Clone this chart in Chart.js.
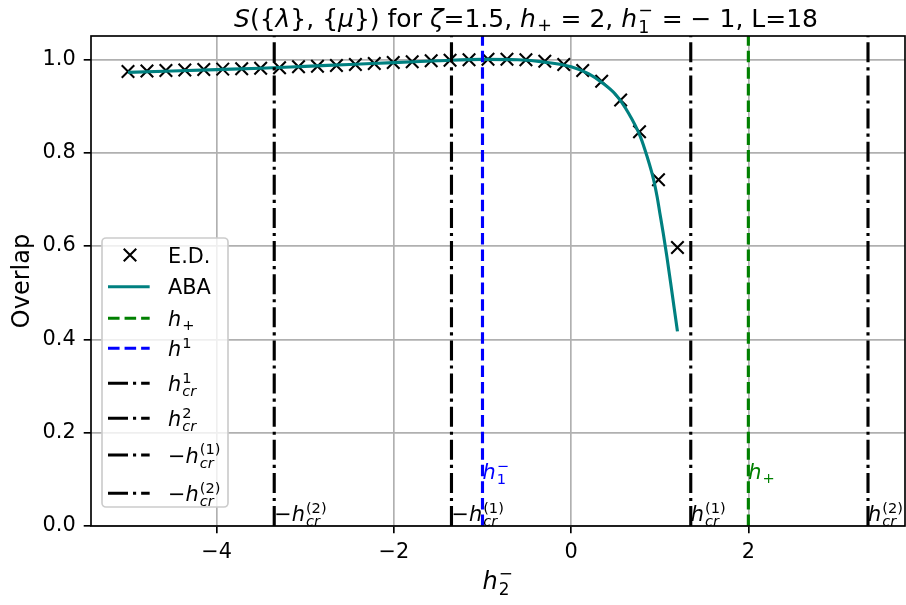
<!DOCTYPE html>
<html>
<head>
<meta charset="utf-8">
<script src="https://cdn.jsdelivr.net/npm/chart.js@4.4.0/dist/chart.umd.min.js"></script>
<style>
    html, body { margin: 0; padding: 0; background: #fff; }
    canvas { display: block; }
</style>
</head>
<body>
<canvas id="overlapChart" width="906" height="605"></canvas>
<script>
// E.D. points (exact diagonalisation)
const edX = [-5, -4.786, -4.572, -4.359, -4.145, -3.931, -3.717, -3.503, -3.290, -3.076,
    -2.862, -2.648, -2.434, -2.221, -2.007, -1.793, -1.579, -1.366, -1.152, -0.938,
    -0.724, -0.510, -0.297, -0.083, 0.131, 0.345, 0.559, 0.772, 0.986, 1.2];
const edY = [0.974, 0.975, 0.976, 0.977, 0.978, 0.979, 0.980, 0.981, 0.982, 0.984,
    0.985, 0.987, 0.989, 0.991, 0.993, 0.995, 0.997, 0.998, 0.999, 1.0,
    1.0, 0.999, 0.996, 0.989, 0.976, 0.953, 0.913, 0.845, 0.742, 0.597];

// ABA curve
const abaX = [-5, -4.5, -4, -3.5, -3, -2.5, -2, -1.5, -1, -0.6, -0.3, 0, 0.2, 0.35, 0.5,
    0.65, 0.78, 0.86, 0.93, 0.97, 1.0, 1.04, 1.08, 1.12, 1.16, 1.2];
const abaY = [0.972, 0.975, 0.978, 0.981, 0.985, 0.989, 0.993, 0.997, 1.0, 0.999, 0.994,
    0.984, 0.969, 0.950, 0.925, 0.884, 0.835, 0.790, 0.743, 0.706, 0.672, 0.627, 0.578, 0.525, 0.471, 0.417];

// Reference lines: h+, h1, hcr1, hcr2, -hcr1, -hcr2
const lineX = [2, -1, 1.35, 3.35, -1.35, -3.35];

// Axes
const xTicks = [-4, -2, 0, 2];
const yTicks = [0, 0.2, 0.4, 0.6, 0.8, 1.0];
const xRange = [-5.4175, 3.7675];
const yRange = [0, 1.05];

const PT = 150 / 72;
const FS = 10 * PT;
const FONT = '"DejaVu Sans", sans-serif';
const dashed = [3.7 * 1.5 * PT, 1.6 * 1.5 * PT];
const dashDot = [6.4 * 1.5 * PT, 1.6 * 1.5 * PT, 1.5 * PT, 1.6 * 1.5 * PT];
const lineColors = ['#008000', '#0000ff', '#000', '#000', '#000', '#000'];
const lineDashes = [dashed, dashed, dashDot, dashDot, dashDot, dashDot];

// Math-ish label pieces
const H = { t: 'h', i: true };
const MINUS = { t: '\u2212' };
const legendLabels = [
    [{ t: 'E.D.' }],
    [{ t: 'ABA' }],
    [H, { sub: '+' }],
    [H, { sup: '1' }],
    [H, { sup: '1', sub: 'cr', bi: true }],
    [H, { sup: '2', sub: 'cr', bi: true }],
    [MINUS, H, { sup: '(1)', sub: 'cr', bi: true }],
    [MINUS, H, { sup: '(2)', sub: 'cr', bi: true }]
];
const titleParts = [
    { t: 'S', i: true }, { t: '({' }, { t: '\u03bb', i: true }, { t: '}, {' }, { t: '\u03bc', i: true },
    { t: '})' }, { t: ' for ' }, { t: '\u03b6', i: true }, { t: '=1.5, ' }, H, { sub: '+' },
    { t: ' = 2, ' }, H, { sup: '\u2212', sub: '1' }, { t: ' = \u2212 1, L=18' }
];
const xLabelParts = [H, { sup: '\u2212', sub: '2' }];

// line index, y position, label
const annotations = [
    [5, 0.01, [MINUS, H, { sup: '(2)', sub: 'cr', bi: true }]],
    [4, 0.01, [MINUS, H, { sup: '(1)', sub: 'cr', bi: true }]],
    [1, 0.1, [H, { sup: '\u2212', sub: '1' }]],
    [2, 0.01, [H, { sup: '(1)', sub: 'cr', bi: true }]],
    [0, 0.1, [H, { sub: '+' }]],
    [3, 0.01, [H, { sup: '(2)', sub: 'cr', bi: true }]]
];

function fontStr(size, italic) {
    return (italic ? 'italic ' : '') + size + 'px ' + FONT;
}

function runMath(ctx, parts, fs, x, y, draw) {
    let cx = x;
    parts.forEach(p => {
        if (p.t !== undefined) {
            ctx.font = fontStr(fs, p.i);
            if (draw) ctx.fillText(p.t, cx, y);
            cx += ctx.measureText(p.t).width;
        } else {
            const ss = fs * 0.7;
            let w = 0;
            cx += fs * 0.05;
            if (p.sup !== undefined) {
                ctx.font = fontStr(ss, p.si);
                if (draw) ctx.fillText(p.sup, cx, y - fs * 0.42);
                w = Math.max(w, ctx.measureText(p.sup).width);
            }
            if (p.sub !== undefined) {
                ctx.font = fontStr(ss, p.bi);
                if (draw) ctx.fillText(p.sub, cx, y + fs * (p.sup !== undefined ? 0.24 : 0.18));
                w = Math.max(w, ctx.measureText(p.sub).width);
            }
            cx += w + fs * 0.03;
        }
    });
    return cx - x;
}

function drawMath(ctx, parts, x, y, fs, color, align) {
    ctx.save();
    ctx.fillStyle = color;
    ctx.textAlign = 'left';
    ctx.textBaseline = 'alphabetic';
    const w = runMath(ctx, parts, fs, 0, 0, false);
    runMath(ctx, parts, fs, align === 'center' ? x - w / 2 : x, y, true);
    ctx.restore();
}

function roundRect(ctx, x, y, w, h, r) {
    ctx.beginPath();
    ctx.moveTo(x + r, y);
    ctx.lineTo(x + w - r, y);
    ctx.arcTo(x + w, y, x + w, y + r, r);
    ctx.lineTo(x + w, y + h - r);
    ctx.arcTo(x + w, y + h, x + w - r, y + h, r);
    ctx.lineTo(x + r, y + h);
    ctx.arcTo(x, y + h, x, y + h - r, r);
    ctx.lineTo(x, y + r);
    ctx.arcTo(x, y, x + r, y, r);
    ctx.closePath();
}

const decorPlugin = {
    id: 'decor',
    beforeDraw(chart) {
        const ctx = chart.ctx;
        ctx.save();
        ctx.fillStyle = '#fff';
        ctx.fillRect(0, 0, chart.width, chart.height);
        ctx.restore();
    },
    afterDatasetsDraw(chart) {
        const ctx = chart.ctx;
        const a = chart.chartArea;
        ctx.save();
        ctx.strokeStyle = '#000';
        ctx.lineWidth = 0.8 * PT;
        ctx.strokeRect(a.left, a.top, a.right - a.left, a.bottom - a.top);
        ctx.restore();
    },
    afterDraw(chart) {
        const ctx = chart.ctx;
        const a = chart.chartArea;
        const xs = chart.scales.x, ys = chart.scales.y;

        // text annotations next to the reference lines
        annotations.forEach(([k, yv, parts]) => {
            drawMath(ctx, parts, xs.getPixelForValue(lineX[k]), ys.getPixelForValue(yv), FS, lineColors[k], 'left');
        });

        // title and axis labels
        const cx = (a.left + a.right) / 2;
        drawMath(ctx, titleParts, 526, 26.5, 25, '#000', 'center');
        drawMath(ctx, xLabelParts, cx, 589, 24, '#000', 'center');
        ctx.save();
        ctx.translate(29, (a.top + a.bottom) / 2);
        ctx.rotate(-Math.PI / 2);
        ctx.font = fontStr(24, false);
        ctx.fillStyle = '#000';
        ctx.textAlign = 'center';
        ctx.textBaseline = 'alphabetic';
        ctx.fillText('Overlap', 0, 0);
        ctx.restore();

        // legend
        const lx = 102, ly = 238, lw = 126, lh = 269;
        ctx.save();
        roundRect(ctx, lx, ly, lw, lh, 4);
        ctx.fillStyle = 'rgba(255,255,255,0.8)';
        ctx.fill();
        ctx.strokeStyle = '#cccccc';
        ctx.lineWidth = 0.8 * PT;
        ctx.stroke();
        ctx.restore();
        const rowY = [255, 286.7, 318.3, 348.3, 383.3, 418.3, 455, 493.3];
        chart.data.datasets.forEach((ds, i) => {
            const y = rowY[i];
            ctx.save();
            if (i === 0) {
                const r = 3 * PT;
                ctx.strokeStyle = '#000';
                ctx.lineWidth = PT;
                ctx.beginPath();
                ctx.moveTo(130 - r, y - r); ctx.lineTo(130 + r, y + r);
                ctx.moveTo(130 + r, y - r); ctx.lineTo(130 - r, y + r);
                ctx.stroke();
            } else {
                ctx.strokeStyle = ds.borderColor;
                ctx.lineWidth = ds.borderWidth;
                ctx.setLineDash(ds.borderDash || []);
                ctx.beginPath();
                ctx.moveTo(108, y); ctx.lineTo(108 + 2 * FS, y);
                ctx.stroke();
            }
            ctx.restore();
            const plain = legendLabels[i].length === 1;
            drawMath(ctx, legendLabels[i], 168, y + (plain ? 7.5 : 8), FS, '#000', 'left');
        });
    }
};

function pts(xArr, yArr) {
    return xArr.map((x, i) => ({ x: x, y: yArr[i] }));
}

const datasets = [
    {
        label: 'E.D.',
        data: pts(edX, edY),
        showLine: false,
        pointStyle: 'crossRot',
        pointRadius: 3 * PT / Math.SQRT1_2,
        pointBorderColor: '#000',
        pointBorderWidth: PT,
        order: 8
    },
    {
        label: 'ABA',
        data: pts(abaX, abaY),
        showLine: true,
        borderColor: '#008080',
        borderWidth: 1.5 * PT,
        pointRadius: 0,
        cubicInterpolationMode: 'monotone',
        order: 7
    }
];
lineX.forEach((x, k) => {
    datasets.push({
        label: 'line' + k,
        data: [{ x: x, y: yRange[0] }, { x: x, y: yRange[1] }],
        showLine: true,
        borderColor: lineColors[k],
        borderDash: lineDashes[k],
        borderWidth: 1.5 * PT,
        pointRadius: 0,
        order: 6 - k
    });
});

const tickFont = { family: FONT, size: FS };

new Chart(document.getElementById('overlapChart').getContext('2d'), {
    type: 'scatter',
    data: { datasets: datasets },
    options: {
        responsive: false,
        animation: false,
        devicePixelRatio: 1,
        layout: { autoPadding: false, padding: { top: 36, right: 1, left: 0, bottom: 0 } },
        plugins: {
            legend: { display: false },
            title: { display: false },
            tooltip: { enabled: false }
        },
        scales: {
            x: {
                type: 'linear',
                min: xRange[0],
                max: xRange[1],
                afterBuildTicks: s => { s.ticks = xTicks.map(v => ({ value: v })); },
                afterFit: s => { s.height = 79; s.paddingLeft = 0; s.paddingRight = 0; },
                grid: { color: '#b0b0b0', lineWidth: 0.8 * PT, tickColor: '#000', tickLength: 3.5 * PT, tickWidth: 0.8 * PT },
                border: { display: false },
                ticks: {
                    font: tickFont,
                    color: '#000',
                    padding: 7,
                    maxRotation: 0,
                    autoSkip: false,
                    callback: v => (v < 0 ? '\u2212' : '') + Math.abs(v)
                }
            },
            y: {
                type: 'linear',
                min: yRange[0],
                max: yRange[1],
                afterBuildTicks: s => { s.ticks = yTicks.map(v => ({ value: v })); },
                afterFit: s => { s.width = 91; s.paddingTop = 0; s.paddingBottom = 0; },
                grid: { color: '#b0b0b0', lineWidth: 0.8 * PT, tickColor: '#000', tickLength: 3.5 * PT, tickWidth: 0.8 * PT },
                border: { display: false },
                ticks: {
                    font: tickFont,
                    color: '#000',
                    padding: 8,
                    autoSkip: false,
                    callback: v => v.toFixed(1)
                }
            }
        }
    },
    plugins: [decorPlugin]
});
</script>
</body>
</html>
